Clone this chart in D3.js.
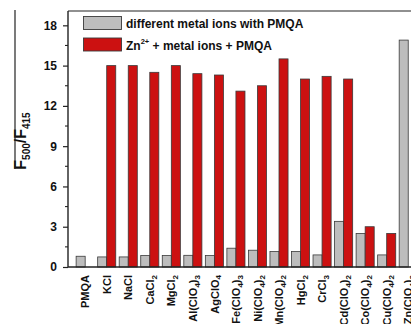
<!DOCTYPE html>
<html>
<head>
<meta charset="utf-8">
<script src="https://cdn.jsdelivr.net/npm/d3@7"></script>
<style>
  html, body { margin: 0; padding: 0; background: #fff; }
  svg { display: block; font-family: "Liberation Sans", Arial, sans-serif; }
</style>
</head>
<body>
<svg id="chart" width="411" height="324"></svg>
<script>
// Salts tested (digits are written as subscripts)
const categories = ["PMQA", "KCl", "NaCl", "CaCl2", "MgCl2", "Al(ClO4)3", "AgClO4",
  "Fe(ClO4)3", "Ni(ClO4)2", "Mn(ClO4)2", "HgCl2", "CrCl3", "Cd(ClO4)2",
  "Co(ClO4)2", "Cu(ClO4)2", "Zn(ClO4)2"];
// F500/F415 ratio: metal ion alone with PMQA
const metalOnly = [0.8, 0.75, 0.75, 0.85, 0.85, 0.87, 0.85, 1.4, 1.25, 1.15, 1.15, 0.9, 3.4, 2.5, 0.9, 16.9];
// F500/F415 ratio: Zn2+ plus metal ion with PMQA
const withZinc = [null, 15.0, 15.0, 14.5, 15.0, 14.4, 14.3, 13.1, 13.5, 15.5, 14.0, 14.2, 14.0, 3.0, 2.5, null];
const yTicks = [0, 3, 6, 9, 12, 15, 18];
const seriesNames = ["different metal ions with PMQA", "Zn2+ + metal ions + PMQA"];

const svg = d3.select("#chart");
const axisX = 68, baseY = 267, topY = 11;

const x = d3.scaleBand().domain(categories).range([74.4, 419]).padding(0);
const y = d3.scaleLinear().domain([0, 19]).range([baseY, 11.9]);
const barW = x.bandwidth() * 0.42;
const center = c => x(c) + x.bandwidth() / 2;

const gray = "#bdbdbd", red = "#cc1111", edge = "#3a3a3a";

// bars
const rows = categories.map((c, i) => ({ c, a: metalOnly[i], b: withZinc[i] }));
svg.append("g").selectAll("rect").data(rows.filter(d => d.a != null)).join("rect")
  .attr("x", d => center(d.c) - barW).attr("width", barW)
  .attr("y", d => y(d.a)).attr("height", d => y(0) - y(d.a))
  .attr("fill", gray).attr("stroke", edge).attr("stroke-width", 0.8);
svg.append("g").selectAll("rect").data(rows.filter(d => d.b != null)).join("rect")
  .attr("x", d => center(d.c)).attr("width", barW)
  .attr("y", d => y(d.b)).attr("height", d => y(0) - y(d.b))
  .attr("fill", red).attr("stroke", edge).attr("stroke-width", 0.8);

// frame lines
svg.append("line").attr("x1", axisX).attr("x2", 411).attr("y1", topY).attr("y2", topY)
  .attr("stroke", "#222").attr("stroke-width", 1.2);
svg.append("line").attr("x1", axisX).attr("x2", 411).attr("y1", baseY).attr("y2", baseY)
  .attr("stroke", "#222").attr("stroke-width", 1.4);

// y axis with major and minor ticks
const yAxis = d3.axisLeft(y).tickValues(yTicks).tickSize(5).tickPadding(6).tickFormat(d3.format("d"));
const gy = svg.append("g").attr("transform", `translate(${axisX},0)`).call(yAxis);
gy.select(".domain").attr("d", `M0,${topY}V${baseY}`).attr("stroke", "#222").attr("stroke-width", 1.4);
gy.selectAll(".tick line").attr("stroke", "#222").attr("stroke-width", 1.2);
gy.selectAll(".tick text").attr("font-size", 12).attr("font-weight", "bold").attr("fill", "#111")
  .attr("font-family", "Liberation Sans, Arial, sans-serif");
const minor = d3.range(1.5, 19, 3);
gy.selectAll(".minor").data(minor).join("line").attr("class", "minor")
  .attr("x1", -3).attr("x2", 0).attr("y1", d => y(d)).attr("y2", d => y(d))
  .attr("stroke", "#222").attr("stroke-width", 1.1);

// chemical formula with subscript digits
function formula(sel, text, size, subSize, shift) {
  const parts = text.match(/\d+|\D+/g);
  let lowered = false;
  parts.forEach(p => {
    const isSub = /^\d+$/.test(p);
    const t = sel.append("tspan").text(p).attr("font-size", isSub ? subSize : size);
    if (isSub && !lowered) { t.attr("dy", shift); lowered = true; }
    else if (!isSub && lowered) { t.attr("dy", -shift); lowered = false; }
  });
}

// x labels, rotated
svg.append("g").selectAll("text").data(categories).join("text")
  .attr("transform", d => `translate(${center(d) - 1.5},275) rotate(-90)`)
  .attr("text-anchor", "end").attr("dy", "0.35em")
  .attr("font-weight", "bold").attr("fill", "#111")
  .each(function (d) { formula(d3.select(this), d, 11, 8, 3); });

// y axis title F500/F415
const yt = svg.append("text")
  .attr("transform", "translate(26,141) rotate(-90)")
  .attr("text-anchor", "middle").attr("font-weight", "bold").attr("fill", "#111");
yt.append("tspan").text("F").attr("font-size", 16);
yt.append("tspan").text("500").attr("font-size", 10).attr("dy", 4);
yt.append("tspan").text("/F").attr("font-size", 16).attr("dy", -4);
yt.append("tspan").text("415").attr("font-size", 10).attr("dy", 4);
svg.append("line").attr("x1", 15).attr("x2", 15).attr("y1", 10).attr("y2", 169)
  .attr("stroke", "#222").attr("stroke-width", 1.2);

// legend
const legend = svg.append("g");
[gray, red].forEach((col, i) => {
  const ly = 16.5 + i * 21.5;
  legend.append("rect").attr("x", 83.5).attr("y", ly).attr("width", 38).attr("height", 13)
    .attr("fill", col).attr("stroke", edge).attr("stroke-width", 0.9);
});
legend.append("text").attr("x", 126).attr("y", 28).attr("font-size", 12)
  .attr("font-weight", "bold").attr("fill", "#111").text(seriesNames[0]);
const l2 = legend.append("text").attr("x", 126).attr("y", 49.5).attr("font-size", 12)
  .attr("font-weight", "bold").attr("fill", "#111");
l2.append("tspan").text("Zn");
l2.append("tspan").text("2+").attr("font-size", 7.5).attr("dy", -6);
l2.append("tspan").text(seriesNames[1].replace("Zn2+", "")).attr("dy", 6);
</script>
</body>
</html>
